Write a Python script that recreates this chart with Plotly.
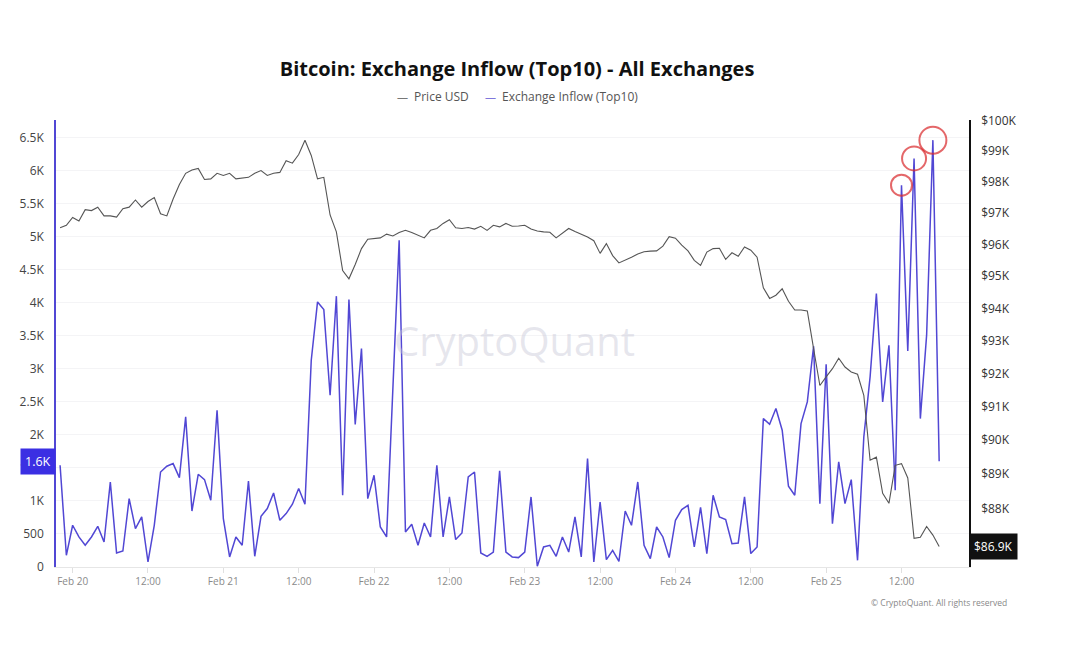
import numpy as np
import pandas as pd
import plotly.graph_objects as go

# hourly samples, Feb 19 22:00 -> Feb 25 18:00 (2025)
start_time = "2025-02-19 22:00"

# BTC price in thousand USD
price_k = [
    96.53, 96.61, 96.86, 96.75, 97.11, 97.08, 97.19, 96.91, 96.91, 96.87,
    97.14, 97.19, 97.42, 97.19, 97.37, 97.50, 96.98, 96.91, 97.45, 97.92,
    98.28, 98.39, 98.44, 98.08, 98.10, 98.28, 98.21, 98.28, 98.10, 98.13,
    98.15, 98.28, 98.37, 98.21, 98.28, 98.31, 98.69, 98.61, 98.89, 99.36,
    98.86, 98.10, 98.15, 96.94, 96.40, 95.18, 94.92, 95.37, 95.87, 96.17,
    96.19, 96.21, 96.33, 96.27, 96.38, 96.45, 96.38, 96.29, 96.21, 96.45,
    96.51, 96.67, 96.79, 96.53, 96.51, 96.54, 96.49, 96.58, 96.45, 96.61,
    96.56, 96.67, 96.58, 96.59, 96.61, 96.49, 96.43, 96.40, 96.39, 96.21,
    96.36, 96.51, 96.41, 96.33, 96.24, 96.12, 95.72, 96.03, 95.65, 95.42,
    95.50, 95.60, 95.70, 95.77, 95.79, 95.80, 95.95, 96.25, 96.20, 95.98,
    95.80, 95.50, 95.34, 95.76, 95.87, 95.88, 95.53, 95.74, 95.63, 95.92,
    95.82, 95.60, 94.64, 94.31, 94.41, 94.61, 94.22, 93.95, 93.95, 93.92,
    92.76, 91.64, 91.90, 92.15, 92.47, 92.20, 92.05, 91.98, 91.34, 89.41,
    89.50, 88.44, 88.15, 89.26, 89.31, 88.89, 87.14, 87.17, 87.48, 87.23,
    86.90,
]

# Exchange inflow (Top10), BTC
inflow = [
    1541, 177, 632, 455, 329, 455, 617, 379, 1288, 212,
    242, 1036, 581, 758, 76, 632, 1439, 1526, 1566, 1354,
    2273, 848, 1404, 1323, 1010, 2374, 733, 152, 455, 329,
    1303, 162, 768, 885, 1121, 708, 809, 950, 1188, 950,
    3132, 4015, 3900, 2602, 4102, 1086, 4052, 2160, 3309, 1036,
    1389, 606, 455, 2700, 4950, 530, 647, 329, 667, 455,
    1541, 455, 1061, 415, 515, 1364, 1439, 212, 162, 227,
    1455, 227, 152, 142, 227, 1061, 11, 303, 329, 162,
    455, 227, 758, 152, 1642, 76, 985, 112, 253, 86,
    848, 632, 1288, 329, 127, 606, 455, 142, 708, 870,
    935, 303, 905, 203, 1086, 758, 718, 354, 364, 1061,
    203, 303, 2248, 2162, 2400, 2071, 1223, 1086, 2172, 2500,
    3344, 960, 3071, 657, 1591, 960, 1323, 101, 1970, 2879,
    4142, 2500, 3359, 1162, 5783, 3273, 6188, 2248, 3511, 6465,
    1600,
]

x_tick_vals = pd.date_range("2025-02-20 00:00", periods=12, freq="12h")
x_tick_text = ["Feb 20", "12:00", "Feb 21", "12:00", "Feb 22", "12:00",
               "Feb 23", "12:00", "Feb 24", "12:00", "Feb 25", "12:00"]

inflow_ticks = [0, 500, 1000, 1500, 2000, 2500, 3000, 3500, 4000, 4500, 5000, 5500, 6000, 6500]
inflow_tick_text = ["0", "500", "1K", "1.5K", "2K", "2.5K", "3K", "3.5K", "4K", "4.5K",
                    "5K", "5.5K", "6K", "6.5K"]
price_ticks = [88000, 89000, 90000, 91000, 92000, 93000, 94000, 95000, 96000, 97000,
               98000, 99000, 100000]

times = pd.date_range(start_time, periods=len(inflow), freq="h")
price_usd = np.array(price_k) * 1000
inflow = np.array(inflow)

INFLOW_COLOR = "#5147d4"
PRICE_COLOR = "#555555"
FONT = "Open Sans"

fig = go.Figure()

fig.add_trace(go.Scatter(
    x=times, y=price_usd, name="Price USD", yaxis="y2",
    mode="lines", line=dict(color=PRICE_COLOR, width=1.1),
))
fig.add_trace(go.Scatter(
    x=times, y=inflow, name="Exchange Inflow (Top10)",
    mode="lines", line=dict(color=INFLOW_COLOR, width=1.5),
))

# red rings around the three biggest spikes
top3 = np.sort(np.argsort(inflow)[-3:])
fig.add_trace(go.Scatter(
    x=times[top3], y=inflow[top3], mode="markers", hoverinfo="skip",
    marker=dict(symbol="circle-open", size=[21, 24, 27], color="#d9262a",
                line=dict(width=2)),
))

last_inflow = inflow[-1]
last_price = price_usd[-1]

# page body has an 8px margin, so the figure is a bit smaller than the window
fig.update_layout(
    width=1050, height=629,
    margin=dict(l=45, r=89, t=112, b=70),
    paper_bgcolor="white", plot_bgcolor="white",
    font=dict(family=FONT, color="#333"),
    showlegend=False,
    title=dict(
        text="<b>Bitcoin: Exchange Inflow (Top10) - All Exchanges</b>",
        x=0.4848, xref="container", xanchor="center",
        y=0.903, yref="container", yanchor="middle",
        font=dict(size=20, color="#111", family=FONT)),
    xaxis=dict(
        range=["2025-02-19 21:21", "2025-02-25 22:45"],
        tickvals=x_tick_vals, ticktext=x_tick_text,
        tickfont=dict(size=10, color="#8a8a8a"),
        showgrid=False, showline=True, linecolor="#e6e6e6", linewidth=1,
        ticks="outside", ticklen=5, tickcolor="#e0e0e0",
        zeroline=False,
    ),
    yaxis=dict(
        range=[0, 6770],
        tickvals=inflow_ticks, ticktext=inflow_tick_text,
        tickfont=dict(size=12, color="#444"),
        showgrid=True, gridcolor="#f4f4f6", gridwidth=1,
        showline=True, linecolor=INFLOW_COLOR, linewidth=1.5,
        zeroline=False, ticks="", ticklabelstandoff=8,
    ),
    yaxis2=dict(
        type="log", overlaying="y", side="right",
        range=[4.9361, 5.0001],
        tickvals=price_ticks,
        ticktext=["$" + str(v // 1000) + "K" for v in price_ticks],
        tickfont=dict(size=12, color="#333"),
        showgrid=False, showline=True, linecolor="#111", linewidth=1.5,
        zeroline=False, ticks="", ticklabelstandoff=8,
    ),
)

# legend drawn as text: a short coloured dash then the series name
legend_items = [("Price USD", "#777777", 0.380), ("Exchange Inflow (Top10)", "#7f77dc", 0.4754)]
for name, dash_color, xpos in legend_items:
    fig.add_annotation(
        xref="paper", yref="paper", x=xpos, y=1.0515, xanchor="center", yanchor="middle",
        showarrow=False, text="\u2014", font=dict(size=11, color=dash_color, family=FONT),
    )
    fig.add_annotation(
        xref="paper", yref="paper", x=xpos + 0.0104, y=1.0515, xanchor="left", yanchor="middle",
        showarrow=False, text=name, font=dict(size=12, color="#555", family=FONT),
    )

# watermark
fig.add_annotation(
    xref="paper", yref="paper", x=0.502, y=0.506, showarrow=False,
    text="CryptoQuant", font=dict(size=40, color="rgba(200,200,214,0.45)", family=FONT),
)

# current value badges
fig.add_annotation(
    xref="paper", yref="y", x=0, xanchor="right", y=last_inflow, showarrow=False,
    text=f"{last_inflow / 1000:.1f}K", bgcolor="#3b2fe3",
    font=dict(size=12.5, color="white", family=FONT), borderpad=4,
)
fig.add_annotation(
    xref="paper", yref="y2", x=1, xanchor="left", y=np.log10(last_price), showarrow=False,
    text=f"${last_price / 1000:.1f}K", bgcolor="#111",
    font=dict(size=12, color="white", family=FONT), borderpad=4,
)

fig.add_annotation(
    xref="paper", yref="paper", x=1.0437, xanchor="right", y=-0.08, yanchor="middle",
    showarrow=False, text="\u00a9 CryptoQuant. All rights reserved",
    font=dict(size=8.5, color="#888", family=FONT),
)

fig.write_html("out.html")
